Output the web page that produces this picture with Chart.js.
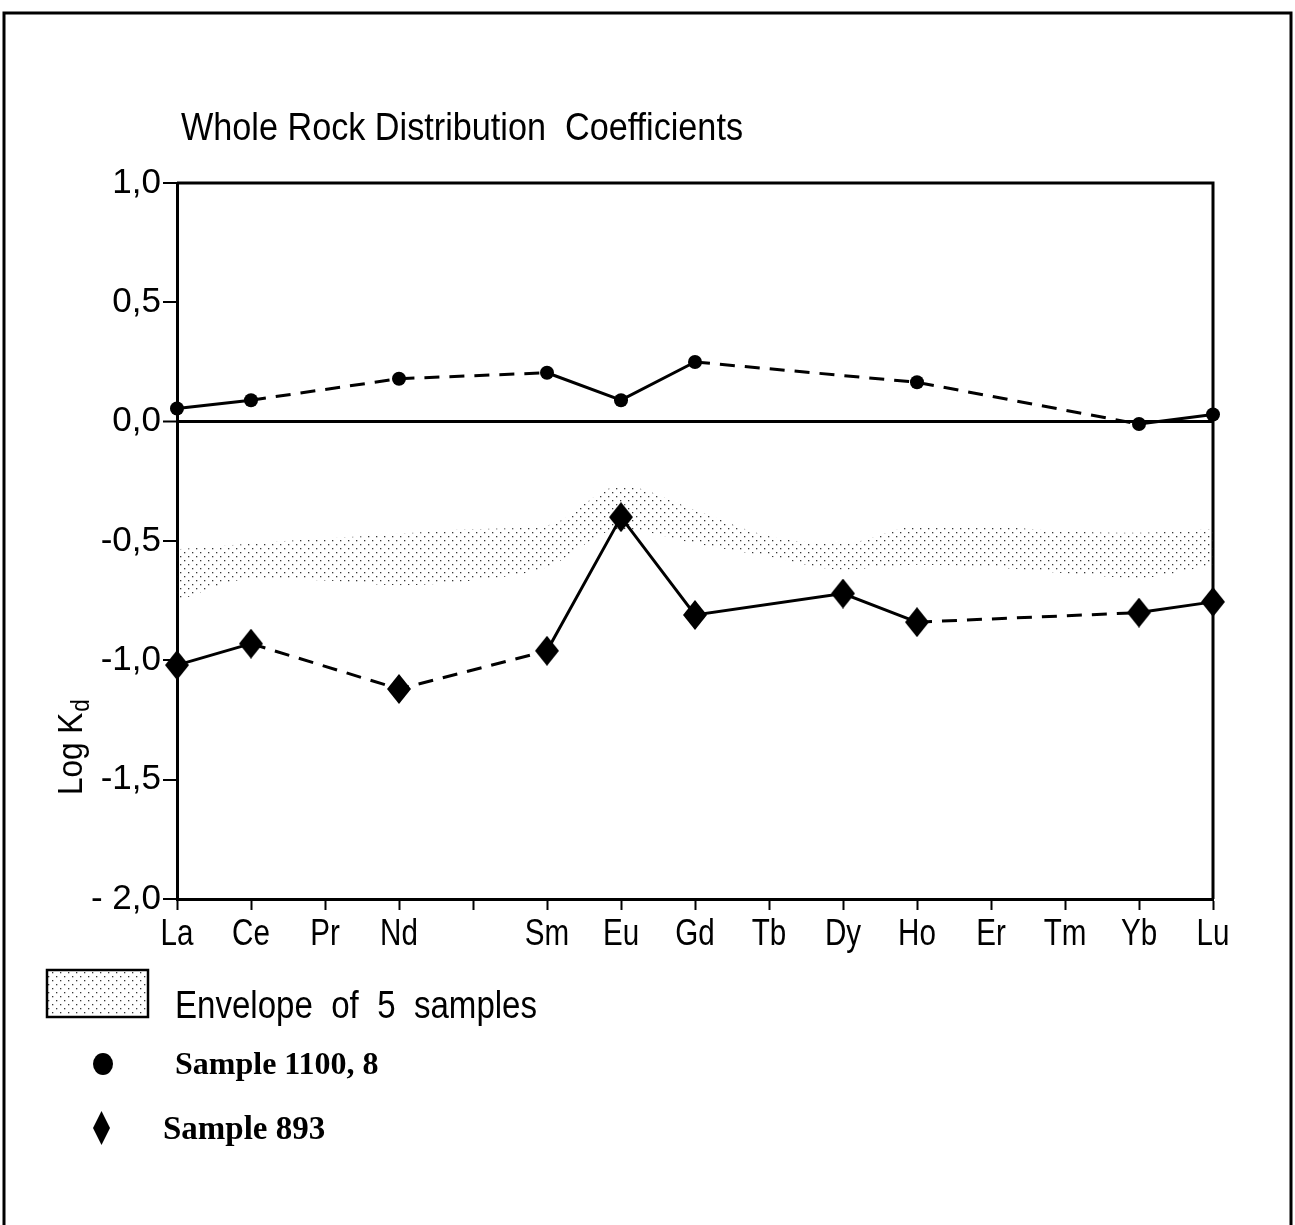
<!DOCTYPE html>
<html>
<head>
<meta charset="utf-8">
<script src="https://cdn.jsdelivr.net/npm/chart.js@4.4.1/dist/chart.umd.min.js"></script>
<style>
  html, body { margin: 0; padding: 0; background: #fff; }
  canvas { display: block; }
</style>
</head>
<body>
<canvas id="kd" width="1295" height="1225"></canvas>
<script>
// Rare earth elements along the x axis (Pm has a tick but no label)
const elements = ['La', 'Ce', 'Pr', 'Nd', '', 'Sm', 'Eu', 'Gd', 'Tb', 'Dy', 'Ho', 'Er', 'Tm', 'Yb', 'Lu'];

// log Kd, sample 1100,8 (circles)
const sample1100 = [0.055, 0.09, null, 0.18, null, 0.205, 0.09, 0.25, null, null, 0.165, null, null, -0.01, 0.03];
// log Kd, sample 893 (diamonds)
const sample893 = [-1.02, -0.93, null, -1.12, null, -0.96, -0.40, -0.81, null, -0.72, -0.84, null, null, -0.80, -0.755];

// upper and lower bounds of the envelope of 5 samples
const envelopeTop = [-0.535, -0.51, -0.49, -0.47, -0.45, -0.435, -0.27, -0.37, -0.48, -0.51, -0.44, -0.44, -0.46, -0.465, -0.45];
const envelopeBottom = [-0.75, -0.66, -0.665, -0.685, -0.665, -0.61, -0.45, -0.51, -0.565, -0.62, -0.60, -0.61, -0.635, -0.655, -0.60];

// segments (named by their starting element) drawn dashed
const sample1100Dashed = ['Ce', 'Nd', 'Gd', 'Ho'];
const sample893Dashed = ['Ce', 'Nd', 'Ho'];

// y axis ticks and their printed labels
const yTickValues = [1, 0.5, 0, -0.5, -1, -1.5, -2];
const yTickLabels = ['1,0', '0,5', '0,0', '-0,5', '-1,0', '-1,5', '- 2,0'];

const titleText = 'Whole Rock Distribution  Coefficients';
const legendLabels = ['Envelope  of  5  samples', 'Sample 1100, 8', 'Sample 893'];

const SANS = "'Liberation Sans', Arial, sans-serif";
const SERIF = "'Liberation Serif', 'DejaVu Serif', serif";

// stipple pattern for the envelope
function makeStipple() {
  const c = document.createElement('canvas');
  c.width = 8; c.height = 8;
  const g = c.getContext('2d');
  g.fillStyle = 'rgba(20,20,20,0.85)';
  g.fillRect(0, 0, 1.3, 1.3);
  g.fillRect(4, 4, 1.3, 1.3);
  return g.createPattern(c, 'repeat');
}
const stipple = makeStipple();

// tall filled diamond marker
function makeDiamond(w, h) {
  const c = document.createElement('canvas');
  c.width = w; c.height = h;
  const g = c.getContext('2d');
  g.fillStyle = '#000';
  g.beginPath();
  g.moveTo(w / 2, 0);
  g.lineTo(w, h / 2);
  g.lineTo(w / 2, h);
  g.lineTo(0, h / 2);
  g.closePath();
  g.fill();
  return c;
}
const diamond = makeDiamond(24, 30);

// dashed when the segment starts at a listed element (gaps resolved to the previous measured point)
function dashFor(values, dashedList) {
  return ctx => {
    let i = ctx.p0DataIndex;
    while (i > 0 && values[i] === null) i--;
    return dashedList.includes(elements[i]) ? [15, 10] : undefined;
  };
}

// narrow lettering: horizontally condensed text
function narrowText(ctx, text, x, y, size, squeeze, align) {
  ctx.save();
  ctx.translate(x, y);
  ctx.scale(squeeze, 1);
  ctx.font = size + 'px ' + SANS;
  ctx.textAlign = align || 'left';
  ctx.textBaseline = 'alphabetic';
  ctx.fillText(text, 0, 0);
  ctx.restore();
}

const framePlugin = {
  id: 'frame',
  beforeDatasetsDraw(chart) {
    const { ctx, chartArea: a } = chart;
    ctx.save();
    ctx.strokeStyle = '#000';
    ctx.lineWidth = 3;
    ctx.beginPath();
    ctx.moveTo(a.left, a.top);
    ctx.lineTo(a.right, a.top);
    ctx.lineTo(a.right, a.bottom);
    ctx.stroke();
    ctx.restore();
  },
  afterDraw(chart) {
    const { ctx } = chart;
    const xs = chart.scales.x;
    ctx.save();
    ctx.fillStyle = '#000';

    // page frame
    ctx.strokeStyle = '#000';
    ctx.lineWidth = 3;
    ctx.strokeRect(4, 13, 1287, 1240);

    // element labels under the x axis
    elements.forEach((el, i) => {
      if (el) narrowText(ctx, el, xs.getPixelForValue(i), xs.top + 46, 37, 0.8, 'center');
    });

    // title
    narrowText(ctx, titleText, 181, 140, 38, 0.9);

    // axis title: Log K with subscript d
    ctx.save();
    ctx.translate(82, 795);
    ctx.rotate(-Math.PI / 2);
    ctx.scale(0.9, 1);
    ctx.font = '35px ' + SANS;
    ctx.textBaseline = 'alphabetic';
    ctx.fillText('Log K', 0, 0);
    const w = ctx.measureText('Log K').width;
    ctx.font = '25px ' + SANS;
    ctx.fillText('d', w + 1, 7);
    ctx.restore();

    // legend: envelope box
    ctx.fillStyle = '#fff';
    ctx.fillRect(47, 970, 101, 47);
    ctx.fillStyle = stipple;
    ctx.fillRect(47, 970, 101, 47);
    ctx.strokeStyle = '#000';
    ctx.lineWidth = 2.5;
    ctx.strokeRect(47, 970, 101, 47);
    ctx.fillStyle = '#000';
    narrowText(ctx, legendLabels[0], 175, 1018, 38, 0.87);

    // legend: circle
    ctx.beginPath();
    ctx.ellipse(103, 1064, 10, 11, 0, 0, Math.PI * 2);
    ctx.fill();
    ctx.font = 'bold 32px ' + SERIF;
    ctx.textAlign = 'left';
    ctx.textBaseline = 'alphabetic';
    ctx.fillText(legendLabels[1], 175, 1074);

    // legend: diamond
    ctx.drawImage(makeDiamond(17, 34), 93, 1111);
    ctx.font = 'bold 33px ' + SERIF;
    ctx.fillText(legendLabels[2], 163, 1139);
    ctx.restore();
  }
};

Chart.defaults.font.family = SANS;
Chart.defaults.color = '#000';

new Chart(document.getElementById('kd'), {
  type: 'line',
  data: {
    labels: elements,
    datasets: [
      {
        label: 'Sample 1100, 8',
        data: sample1100,
        order: 0,
        borderColor: '#000',
        borderWidth: 3,
        pointStyle: 'circle',
        pointRadius: 7,
        pointBackgroundColor: '#000',
        pointBorderWidth: 0,
        spanGaps: true,
        fill: false,
        segment: { borderDash: dashFor(sample1100, sample1100Dashed) }
      },
      {
        label: 'Sample 893',
        data: sample893,
        order: 1,
        borderColor: '#000',
        borderWidth: 3,
        pointStyle: diamond,
        pointRadius: 12,
        pointBackgroundColor: '#000',
        spanGaps: true,
        fill: false,
        segment: { borderDash: dashFor(sample893, sample893Dashed) }
      },
      {
        label: 'Envelope of 5 samples',
        data: envelopeTop,
        order: 5,
        borderWidth: 0,
        borderColor: 'rgba(0,0,0,0)',
        pointRadius: 0,
        cubicInterpolationMode: 'monotone',
        backgroundColor: stipple,
        fill: '+1'
      },
      {
        label: 'envelope-bottom',
        data: envelopeBottom,
        order: 6,
        borderWidth: 0,
        borderColor: 'rgba(0,0,0,0)',
        pointRadius: 0,
        cubicInterpolationMode: 'monotone',
        fill: false
      }
    ]
  },
  options: {
    responsive: false,
    animation: false,
    devicePixelRatio: 1,
    layout: { padding: { left: 0, top: 183, right: 82, bottom: 0 } },
    plugins: {
      legend: { display: false },
      tooltip: { enabled: false },
      title: { display: false }
    },
    scales: {
      x: {
        type: 'category',
        offset: false,
        afterFit(scale) { scale.height = 326; },
        border: { color: '#000', width: 3 },
        grid: {
          drawOnChartArea: false,
          drawTicks: true,
          tickLength: 11,
          tickColor: '#000',
          tickWidth: 2
        },
        ticks: {
          display: false,
          autoSkip: false,
          maxRotation: 0
        }
      },
      y: {
        min: -2,
        max: 1,
        afterFit(scale) { scale.width = 177; },
        afterBuildTicks(scale) { scale.ticks = yTickValues.map(v => ({ value: v })); },
        border: { color: '#000', width: 3 },
        grid: {
          color: c => (c.tick && c.tick.value === 0 ? '#000' : 'rgba(0,0,0,0)'),
          lineWidth: c => (c.tick && c.tick.value === 0 ? 3 : 0),
          drawTicks: true,
          tickLength: 14,
          tickColor: '#000',
          tickWidth: 2
        },
        ticks: {
          color: '#000',
          padding: 2,
          font: { family: SANS, size: 35 },
          callback: (v) => {
            const i = yTickValues.indexOf(v);
            return i >= 0 ? yTickLabels[i] : '';
          }
        }
      }
    }
  },
  plugins: [framePlugin]
});
</script>
</body>
</html>
